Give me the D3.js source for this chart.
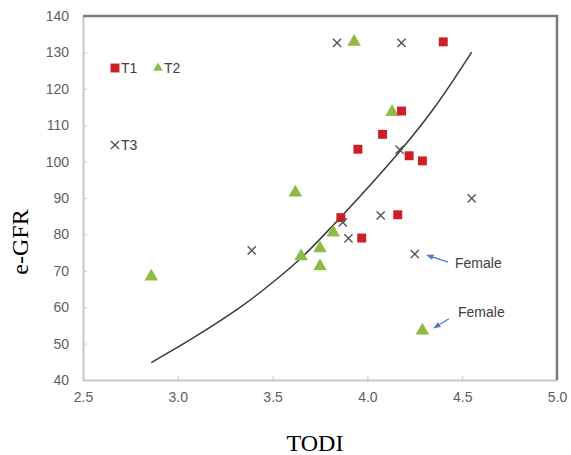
<!DOCTYPE html>
<html lang="en">
<head>
  <meta charset="UTF-8">
  <title>e-GFR vs TODI</title>
  <script src="https://d3js.org/d3.v7.min.js"></script>
  <style>
    body { margin: 0; background: #fff; }
    .tick text { font-family: Arial, "Liberation Sans", sans-serif; font-size: 14px; fill: #606060; }
    .axis-title { font-family: "Times New Roman", "Liberation Serif", serif; font-size: 24px; fill: #000; }
    .legend text, .note { font-family: Arial, "Liberation Sans", sans-serif; font-size: 14px; fill: #404040; }
  </style>
</head>
<body>
  <svg id="chart" width="571" height="455"></svg>
  <script>
    // T1 (red squares)
    const t1 = [
      [4.40, 132.9], [4.18, 113.9], [4.08, 107.5], [3.95, 103.4], [4.22, 101.6],
      [4.29, 100.2], [3.86, 84.6], [4.16, 85.4], [3.97, 79.0]
    ];
    // T2 (green triangles)
    const t2 = [
      [3.93, 132.9], [4.13, 113.6], [3.62, 91.5], [3.65, 74.0], [3.75, 76.2],
      [3.75, 71.2], [3.82, 80.5], [2.86, 68.4], [4.29, 53.6]
    ];
    // T3 (grey crosses)
    const t3 = [
      [3.84, 132.6], [4.18, 132.6], [4.17, 103.3], [4.55, 89.9], [4.07, 85.2],
      [3.87, 83.3], [3.90, 78.9], [4.25, 74.6], [3.39, 75.6]
    ];
    // trend curve
    const trend = [
      [2.86, 44.8], [3.07, 51.2], [3.33, 60.0], [3.54, 68.5], [3.65, 73.5],
      [3.79, 80.9], [4.17, 102.8], [4.35, 114.6], [4.55, 130.1]
    ];
    const xTicks = [2.5, 3.0, 3.5, 4.0, 4.5, 5.0];
    const yTicks = [40, 50, 60, 70, 80, 90, 100, 110, 120, 130, 140];
    // "Female" notes: label position, arrow start and arrow end
    const notes = [
      { text: 'Female', label: [4.462, 70.8], from: [4.425, 72.4], to: [4.314, 74.3] },
      { text: 'Female', label: [4.478, 57.3], from: [4.430, 56.8], to: [4.351, 54.3] }
    ];

    const svg = d3.select('#chart');
    const x = d3.scaleLinear().domain([2.5, 5]).range([83, 557]);
    const y = d3.scaleLinear().domain([40, 140]).range([380, 16]);

    // axes (ticks pointing inward)
    svg.append('g')
      .attr('transform', 'translate(0,380)')
      .call(d3.axisBottom(x).tickValues(xTicks).tickFormat(d3.format('.1f')).tickSizeInner(-4).tickSizeOuter(0).tickPadding(12))
      .call(g => g.select('.domain').attr('stroke', '#c8c8c8').attr('stroke-width', 2))
      .call(g => g.selectAll('.tick line').attr('stroke', '#c8c8c8'));

    svg.append('g')
      .attr('transform', 'translate(83,0)')
      .call(d3.axisLeft(y).tickValues(yTicks).tickSizeInner(-4).tickSizeOuter(0).tickPadding(14))
      .call(g => g.select('.domain').attr('stroke', '#c8c8c8').attr('stroke-width', 2))
      .call(g => g.selectAll('.tick line').attr('stroke', '#c8c8c8'));

    // darker top and right border
    svg.append('path')
      .attr('d', `M${x(2.5)},${y(140)}H${x(5)}V${y(40)}`)
      .attr('fill', 'none')
      .attr('stroke', '#7a7a7a')
      .attr('stroke-width', 2.5);

    // trend line
    svg.append('path')
      .datum(trend)
      .attr('d', d3.line().x(d => x(d[0])).y(d => y(d[1])).curve(d3.curveCatmullRom))
      .attr('fill', 'none')
      .attr('stroke', '#3a3a3a')
      .attr('stroke-width', 1.5);

    const sq = d3.symbol().type(d3.symbolSquare).size(80);
    const tri = d3.symbol().type(d3.symbolTriangle).size(80);
    const cross = d3.symbol().type(d3.symbolTimes).size(45);

    svg.append('g').selectAll('path').data(t2).join('path')
      .attr('transform', d => `translate(${x(d[0])},${y(d[1])})`)
      .attr('d', tri).attr('fill', '#8fba45');

    svg.append('g').selectAll('path').data(t1).join('path')
      .attr('transform', d => `translate(${x(d[0])},${y(d[1])})`)
      .attr('d', sq).attr('fill', '#cc1f26');

    svg.append('g').selectAll('path').data(t3).join('path')
      .attr('transform', d => `translate(${x(d[0])},${y(d[1])})`)
      .attr('d', cross).attr('fill', 'none')
      .attr('stroke', '#555').attr('stroke-width', 1.4);

    // legend
    const legend = svg.append('g').attr('class', 'legend');
    const legendItems = [
      { sym: sq, color: '#cc1f26', label: 'T1', pos: [115, 68] },
      { sym: d3.symbol().type(d3.symbolTriangle).size(40), color: '#8fba45', label: 'T2', pos: [158, 68] },
      { sym: cross, color: '#555', label: 'T3', pos: [115, 145], stroke: true }
    ];
    legendItems.forEach(it => {
      const p = legend.append('path')
        .attr('transform', `translate(${it.pos[0]},${it.pos[1]})`)
        .attr('d', it.sym);
      if (it.stroke) p.attr('fill', 'none').attr('stroke', it.color).attr('stroke-width', 1.4);
      else p.attr('fill', it.color);
      legend.append('text')
        .attr('x', it.pos[0] + 6).attr('y', it.pos[1] + 5)
        .text(it.label);
    });

    // annotations
    svg.append('defs').append('marker')
      .attr('id', 'arrow').attr('viewBox', '0 0 10 10')
      .attr('refX', 9).attr('refY', 5)
      .attr('markerWidth', 6).attr('markerHeight', 6)
      .attr('orient', 'auto')
      .append('path').attr('d', 'M0,1L10,5L0,9z').attr('fill', '#4a7dc4');

    notes.forEach(n => {
      svg.append('text').attr('class', 'note')
        .attr('x', x(n.label[0])).attr('y', y(n.label[1]))
        .text(n.text);
      svg.append('line')
        .attr('x1', x(n.from[0])).attr('y1', y(n.from[1]))
        .attr('x2', x(n.to[0])).attr('y2', y(n.to[1]))
        .attr('stroke', '#4a7dc4').attr('stroke-width', 1.2)
        .attr('marker-end', 'url(#arrow)');
    });

    // axis titles
    svg.append('text').attr('class', 'axis-title')
      .attr('x', 315).attr('y', 451)
      .attr('text-anchor', 'middle')
      .text('TODI');
    svg.append('text').attr('class', 'axis-title')
      .attr('transform', 'translate(28,242) rotate(-90)')
      .attr('text-anchor', 'middle')
      .text('e-GFR');
  </script>
</body>
</html>
